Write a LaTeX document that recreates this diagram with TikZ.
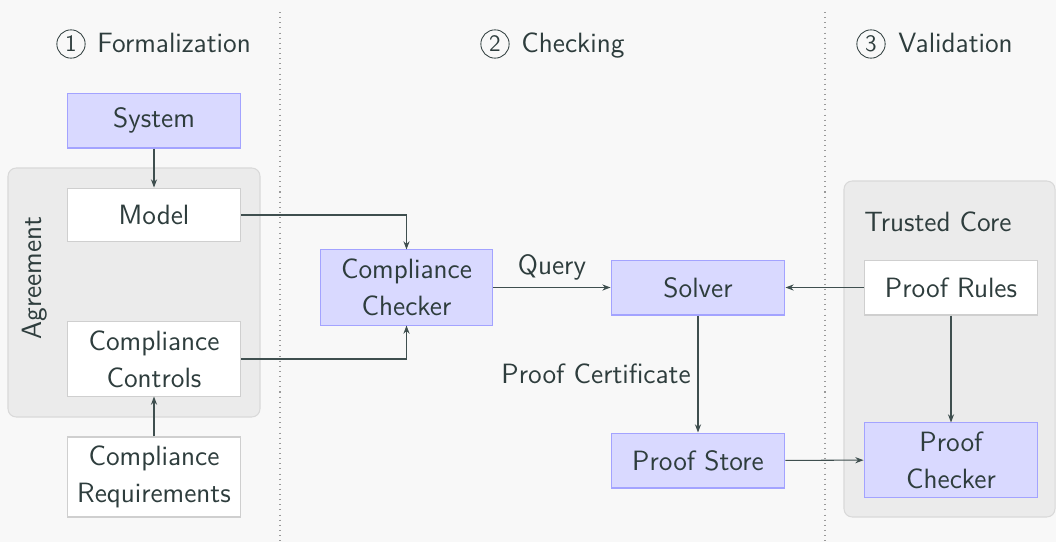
\documentclass[tikz,border=0pt]{standalone}
\usepackage{fontspec}
\usetikzlibrary{arrows.meta,positioning,calc}
\definecolor{ink}{HTML}{2E3D3D}
\definecolor{bg}{HTML}{F8F8F8}
\definecolor{groupfill}{HTML}{EBEBEB}
\definecolor{groupline}{HTML}{D9D9D9}
\definecolor{procfill}{HTML}{D9D9FF}
\definecolor{procline}{HTML}{A3A3FF}
\definecolor{dataline}{HTML}{CFCFCF}
\definecolor{sepline}{HTML}{9A9A9A}
\definecolor{wire}{HTML}{3F4F4F}
\begin{document}
\begin{tikzpicture}[x=0.4875pt,y=-0.4875pt,
  every node/.style={font=\sffamily\fontsize{13.6}{18}\selectfont, text=ink},
  boxbase/.style={minimum width=84.8pt, align=center, inner sep=2pt},
  proc/.style={boxbase, fill=procfill, draw=procline, line width=0.5pt},
  datum/.style={boxbase, fill=white, draw=dataline, line width=0.5pt},
  group/.style={fill=groupfill, draw=groupline, rounded corners=4pt, line width=0.5pt},
  flow/.style={draw=wire, line width=0.5pt, -{Stealth[length=4pt,width=3pt]}},
  stepnum/.style={circle, draw=ink, line width=0.4pt, inner sep=0pt, minimum size=13.8pt,
    font=\sffamily\fontsize{11.5}{12}\selectfont},
  heading/.style={anchor=base west, inner sep=0pt},
  divider/.style={draw=sepline, dotted, line width=0.5pt}]

% canvas
\useasboundingbox[fill=bg] (0,0) rectangle (1056,542);

% phase separators
\draw[divider] (280,12) -- (280,542);
\draw[divider] (825,12) -- (825,542);

% grouping panels
\draw[group] (8,168) rectangle (260,417);
\draw[group] (844,181) rectangle (1055,517);
\node[rotate=90] (agree) at (35,278) {Agreement};
\node[heading] (core) at (864,231) {Trusted Core};

% phase headings
\node[stepnum] (n1) at (71,44) {1};
\node[heading] (h1) at (97,53) {Formalization};
\node[stepnum] (n2) at (495,44) {2};
\node[heading] (h2) at (521,53) {Checking};
\node[stepnum] (n3) at (871,44) {3};
\node[heading] (h3) at (898,53) {Validation};

% components
\node[proc, minimum height=26.8pt] (sys) at (154,120.5) {System};
\node[datum, minimum height=26.3pt] (model) at (154,215) {Model};
\node[datum, minimum height=36.1pt] (controls) at (154,359) {Compliance\\Controls};
\node[datum, minimum height=39pt] (reqs) at (154,477) {Compliance\\Requirements};
\node[proc, minimum height=36.6pt, minimum width=84.3pt] (checker) at (406.5,287.5) {Compliance\\Checker};
\node[proc, minimum height=26.8pt] (solver) at (698,287.5) {Solver};
\node[proc, minimum height=26.8pt] (store) at (698,460.5) {Proof Store};
\node[datum, minimum height=26.8pt] (rules) at (951,287.5) {Proof Rules};
\node[proc, minimum height=36.1pt] (pchecker) at (951,460) {Proof\\Checker};

% data flow
\draw[flow] (sys) -- (model);
\draw[flow] (model.east) -| (checker.north);
\draw[flow] (controls.east) -| (checker.south);
\draw[flow] (reqs) -- (controls);
\draw[flow] (checker) -- node[above] {Query} (solver);
\draw[flow] (solver) -- node[left] {Proof Certificate} (store);
\draw[flow] (rules) -- (solver);
\draw[flow] (rules) -- (pchecker);
\draw[flow] (store) -- (pchecker);
\end{tikzpicture}
\end{document}
